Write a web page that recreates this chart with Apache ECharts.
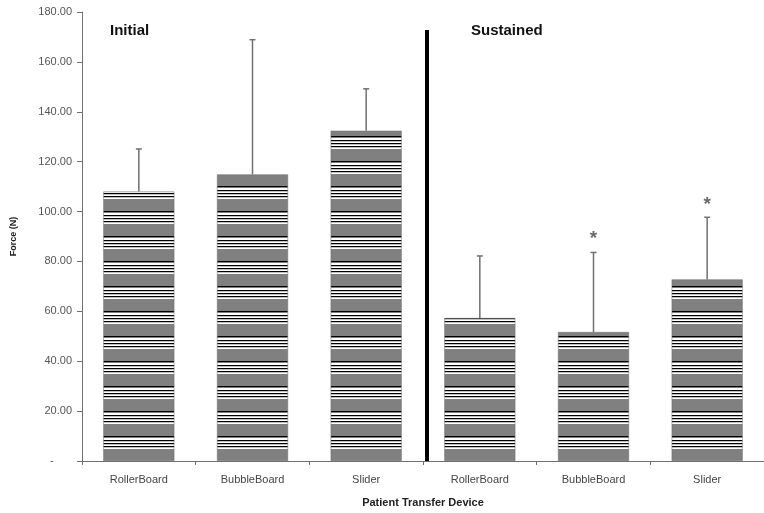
<!DOCTYPE html>
<html>
<head>
<meta charset="utf-8">
<script src="https://cdn.jsdelivr.net/npm/echarts@6/dist/echarts.min.js"></script>
<style>
  html, body { margin: 0; padding: 0; background: #fff; }
  #main { width: 764px; height: 513px; }
</style>
</head>
<body>
<div id="main"></div>
<script>
const categories = ["RollerBoard", "BubbleBoard", "Slider", "RollerBoard", "BubbleBoard", "Slider"];
const meanForce = [108.0, 114.9, 132.4, 57.3, 51.7, 72.8];
const upperError = [125.1, 168.9, 149.2, 82.2, 83.6, 97.7];
const asteriskAt = [null, null, null, null, 91.3, 105.3];
const yTicks = [0, 20, 40, 60, 80, 100, 120, 140, 160, 180];

// striped fill like the original (gray with white/black lines)
const makePattern = () => {
  const c = document.createElement("canvas");
  c.width = 8;
  c.height = 25;
  const ctx = c.getContext("2d");
  ctx.fillStyle = "#808080";
  ctx.fillRect(0, 0, 8, 25);
  const rows = [[11, 1, "#000"], [13, 2, "#fff"], [15, 1, "#000"], [16.5, 1.5, "#fff"], [18, 1, "#000"], [19.5, 1.5, "#fff"], [21, 1, "#000"], [22.5, 1.5, "#fff"]];
  rows.forEach(function (r) {
    ctx.fillStyle = r[2];
    ctx.fillRect(0, r[0], 8, r[1]);
  });
  return c;
};

const chart = echarts.init(document.getElementById("main"));
const font = "Liberation Sans, Arial, sans-serif";

const option = {
  animation: false,
  grid: { left: 82, right: -4, top: 12, bottom: 51, containLabel: false },
  xAxis: {
    type: "category",
    data: categories,
    name: "Patient Transfer Device",
    nameLocation: "middle",
    nameGap: 36,
    nameTextStyle: { fontFamily: font, fontSize: 11, fontWeight: "bold", color: "#222" },
    axisLine: { lineStyle: { color: "#707070", width: 1 } },
    axisTick: { show: true, length: 4, lineStyle: { color: "#707070" } },
    axisLabel: { fontFamily: font, fontSize: 11, color: "#444", margin: 13 }
  },
  yAxis: {
    type: "value",
    min: 0,
    max: 180,
    interval: 20,
    name: "Force (N)",
    nameLocation: "middle",
    nameGap: 64,
    nameTextStyle: { fontFamily: font, fontSize: 9, fontWeight: "bold", color: "#222" },
    axisLine: { show: true, lineStyle: { color: "#707070", width: 1 } },
    axisTick: { show: true, length: 5, lineStyle: { color: "#707070" } },
    splitLine: { show: false },
    axisLabel: {
      fontFamily: font,
      fontSize: 11,
      color: "#555",
      margin: 10,
      formatter: function (v) {
        return yTicks.indexOf(v) === 0 ? "-      " : v.toFixed(2);
      }
    }
  },
  graphic: [
    { type: "text", left: 110, top: 23, style: { text: "Initial", font: "bold 15px " + font, fill: "#111" } },
    { type: "text", left: 471, top: 23, style: { text: "Sustained", font: "bold 15px " + font, fill: "#111" } }
  ],
  series: [
    {
      type: "bar",
      data: meanForce,
      barWidth: 71,
      itemStyle: {
        color: { image: makePattern(), repeat: "repeat" },
        borderColor: "#6a6a6a",
        borderWidth: 0.5
      },
      z: 2
    },
    {
      // upper error bars
      type: "custom",
      data: upperError.map(function (v, i) { return [i, meanForce[i], v]; }),
      renderItem: function (params, api) {
        const base = api.coord([api.value(0), api.value(1)]);
        const top = api.coord([api.value(0), api.value(2)]);
        const st = { stroke: "#707070", lineWidth: 1.5 };
        return {
          type: "group",
          children: [
            { type: "line", shape: { x1: base[0], y1: base[1], x2: top[0], y2: top[1] }, style: st },
            { type: "line", shape: { x1: top[0] - 3, y1: top[1], x2: top[0] + 3, y2: top[1] }, style: st }
          ]
        };
      },
      z: 3
    },
    {
      // separator between Initial and Sustained
      type: "custom",
      data: [[2, 3, 172.8]],
      renderItem: function (params, api) {
        const a = api.coord([api.value(0), 0]);
        const b = api.coord([api.value(1), 0]);
        const t = api.coord([api.value(0), api.value(2)]);
        const x = (a[0] + b[0]) / 2 + 4;
        return {
          type: "line",
          shape: { x1: x, y1: t[1], x2: x, y2: a[1] },
          style: { stroke: "#000", lineWidth: 4 }
        };
      },
      z: 4
    },
    {
      type: "scatter",
      data: asteriskAt,
      symbolSize: 0,
      label: {
        show: true,
        position: "inside",
        formatter: "*",
        fontFamily: font,
        fontSize: 19,
        fontWeight: "bold",
        color: "#444",
        offset: [0, 6]
      },
      z: 5
    }
  ]
};

option && chart.setOption(option);
</script>
</body>
</html>
